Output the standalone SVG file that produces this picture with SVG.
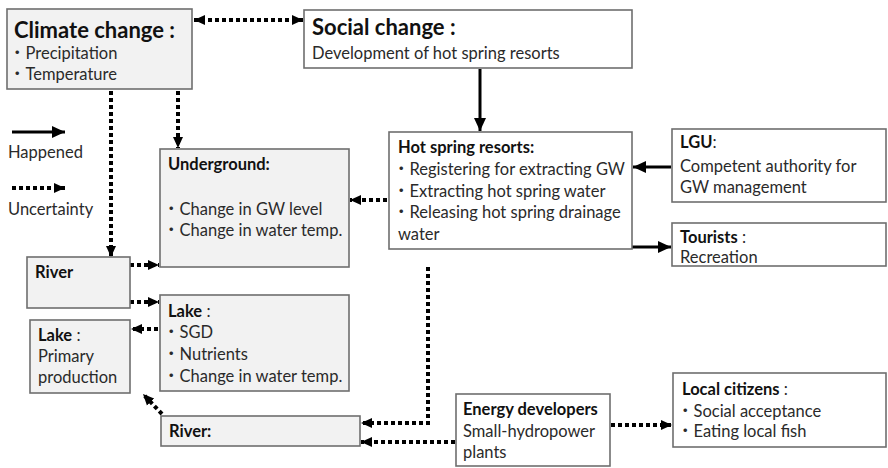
<svg xmlns="http://www.w3.org/2000/svg" width="888" height="468" viewBox="0 0 888 468">
<style>
text{font-family:Lato,"Noto Sans CJK JP",sans-serif;font-size:16.5px;fill:#2a2a2a}
.b{font-weight:bold;fill:#111}
.big{font-size:22px;font-weight:bold;fill:#111}
.g{fill:#f2f2f2;stroke:#6e6e6e;stroke-width:1.6}
.w{fill:#fff;stroke:#6e6e6e;stroke-width:1.6}
.dot{fill:none;stroke:#000;stroke-width:4;stroke-dasharray:4 3}
.sol{fill:none;stroke:#000;stroke-width:3}
</style>
<defs>
<marker id="ah" markerUnits="userSpaceOnUse" markerWidth="14" markerHeight="14" viewBox="0 0 14 14" refX="13" refY="7" orient="auto-start-reverse"><path d="M0,1 L13,7 L0,13 Z" fill="#000"/></marker>
<marker id="ad" markerUnits="userSpaceOnUse" markerWidth="12" markerHeight="12" viewBox="0 0 12 12" refX="11" refY="6" orient="auto-start-reverse"><path d="M0,1 L11,6 L0,11 Z" fill="#000"/></marker>
</defs>

<g id="legend">
<line class="sol" x1="12" y1="132" x2="65" y2="132" marker-end="url(#ah)"/>
<text x="8" y="158">Happened</text>
<line class="dot" x1="12" y1="188" x2="65" y2="188" marker-end="url(#ad)"/>
<text x="8" y="215">Uncertainty</text>
</g>

<g id="connectors">
<line class="dot" x1="194" y1="20" x2="303" y2="20" marker-start="url(#ad)" marker-end="url(#ad)"/>
<line class="dot" x1="111" y1="91" x2="111" y2="257" marker-end="url(#ad)"/>
<line class="dot" x1="178" y1="91" x2="178" y2="148" marker-end="url(#ad)"/>
<line class="sol" x1="480" y1="69" x2="480" y2="131" marker-end="url(#ah)"/>
<line class="dot" x1="387" y1="200" x2="350" y2="200" marker-end="url(#ad)"/>
<line class="sol" x1="671" y1="167" x2="633" y2="167" marker-end="url(#ah)"/>
<line class="sol" x1="632" y1="247" x2="671" y2="247" marker-end="url(#ah)"/>
<line class="dot" x1="116" y1="265" x2="159" y2="265" marker-end="url(#ad)"/>
<line class="dot" x1="116" y1="302" x2="159" y2="302" marker-end="url(#ad)"/>
<line class="dot" x1="165" y1="329" x2="131" y2="329" marker-end="url(#ad)"/>
<line class="dot" x1="162" y1="414" x2="143" y2="394" marker-end="url(#ad)"/>
<polyline class="dot" points="428,267 428,423 361,423" marker-end="url(#ad)"/>
<line class="dot" x1="455" y1="442" x2="361" y2="442" marker-end="url(#ad)"/>
<line class="dot" x1="611" y1="425" x2="672" y2="425" marker-end="url(#ad)"/>
</g>

<g id="climate">
<rect class="g" x="7" y="9" width="185" height="80"/>
<text class="big" x="14" y="38">Climate change :</text>
<text x="9" y="59">・Precipitation</text>
<text x="9" y="80">・Temperature</text>
</g>

<g id="social">
<rect class="w" x="304" y="10" width="328" height="58"/>
<text class="big" x="312" y="35">Social change :</text>
<text x="312" y="59">Development of hot spring resorts</text>
</g>

<g id="underground">
<rect class="g" x="160" y="149" width="189" height="118"/>
<text class="b" x="168" y="170">Underground:</text>
<text x="163" y="215">・Change in GW level</text>
<text x="163" y="236">・Change in water temp.</text>
</g>

<g id="hotspring">
<rect class="w" x="389" y="132" width="243" height="117"/>
<text class="b" x="398" y="153">Hot spring resorts:</text>
<text x="393" y="175">・Registering for extracting GW</text>
<text x="393" y="197">・Extracting hot spring water</text>
<text x="393" y="218">・Releasing hot spring drainage</text>
<text x="398" y="240">water</text>
</g>

<g id="lgu">
<rect class="w" x="672" y="129" width="214" height="73"/>
<text x="680" y="148"><tspan class="b">LGU</tspan>:</text>
<text x="680" y="172">Competent authority for</text>
<text x="680" y="193">GW management</text>
</g>

<g id="tourists">
<rect class="w" x="672" y="223" width="214" height="43"/>
<text x="680" y="243"><tspan class="b">Tourists</tspan> :</text>
<text x="680" y="263">Recreation</text>
</g>

<g id="river1">
<rect class="g" x="27" y="257" width="103" height="51"/>
<text class="b" x="35" y="278">River</text>
</g>

<g id="lake1">
<rect class="g" x="30" y="320" width="100" height="73"/>
<text x="38" y="341"><tspan class="b">Lake</tspan> :</text>
<text x="38" y="362">Primary</text>
<text x="38" y="383">production</text>
</g>

<g id="lake2">
<rect class="g" x="160" y="295" width="189" height="96"/>
<text x="168" y="317"><tspan class="b">Lake</tspan> :</text>
<text x="163" y="338">・SGD</text>
<text x="163" y="360">・Nutrients</text>
<text x="163" y="382">・Change in water temp.</text>
</g>

<g id="river2">
<rect class="g" x="161" y="416" width="199" height="30"/>
<text class="b" x="169" y="437">River:</text>
</g>

<g id="energy">
<rect class="w" x="456" y="394" width="154" height="72"/>
<text class="b" x="463" y="415">Energy developers</text>
<text x="463" y="437">Small-hydropower</text>
<text x="463" y="458">plants</text>
</g>

<g id="citizens">
<rect class="w" x="673" y="373" width="213" height="74"/>
<text x="682" y="395"><tspan class="b">Local citizens</tspan> :</text>
<text x="677" y="417">・Social acceptance</text>
<text x="677" y="437">・Eating local fish</text>
</g>
</svg>
